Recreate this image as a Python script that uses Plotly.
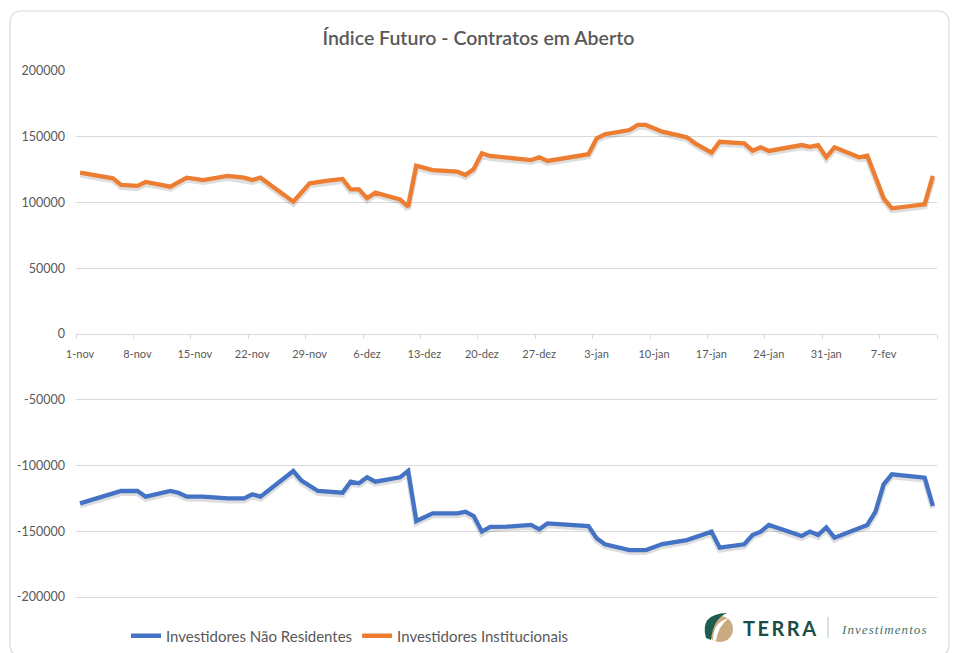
import plotly.graph_objects as go
import pandas as pd

title_text = "Índice Futuro - Contratos em Aberto"
name_nres = "Investidores Não Residentes"
name_inst = "Investidores Institucionais"

inst_dates = ["2021-11-01", "2021-11-05", "2021-11-06", "2021-11-08", "2021-11-09", "2021-11-12",
              "2021-11-14", "2021-11-16", "2021-11-19", "2021-11-21", "2021-11-22", "2021-11-23",
              "2021-11-27", "2021-11-29", "2021-12-01", "2021-12-03", "2021-12-04", "2021-12-05",
              "2021-12-06", "2021-12-07", "2021-12-10", "2021-12-11", "2021-12-12", "2021-12-14",
              "2021-12-17", "2021-12-18", "2021-12-19", "2021-12-20", "2021-12-21", "2021-12-23",
              "2021-12-26", "2021-12-27", "2021-12-28", "2022-01-02", "2022-01-03", "2022-01-04",
              "2022-01-07", "2022-01-08", "2022-01-09", "2022-01-11", "2022-01-14", "2022-01-15",
              "2022-01-17", "2022-01-18", "2022-01-21", "2022-01-22", "2022-01-23", "2022-01-24",
              "2022-01-28", "2022-01-29", "2022-01-30", "2022-01-31", "2022-02-01", "2022-02-04",
              "2022-02-05", "2022-02-07", "2022-02-08", "2022-02-12", "2022-02-13"]
inst_values = [122700, 118400, 113300, 112600, 115600, 112000,
               118900, 117100, 120200, 118900, 117100, 118900,
               100600, 114600, 116400, 117900, 110000, 110000,
               103200, 107500, 102400, 96800, 128000, 124700,
               123400, 120900, 125500, 137400, 135400, 134100,
               132300, 134400, 131600, 136700, 148800, 151900,
               155100, 159000, 159000, 153900, 149600, 145000,
               137900, 146200, 145000, 139400, 142000, 139200,
               143700, 142400, 143700, 134400, 142000, 134400,
               135600, 103200, 95600, 98600, 120200]

nres_dates = ["2021-11-01", "2021-11-06", "2021-11-08", "2021-11-09", "2021-11-12", "2021-11-13",
              "2021-11-14", "2021-11-16", "2021-11-19", "2021-11-21", "2021-11-22", "2021-11-23",
              "2021-11-27", "2021-11-28", "2021-11-30", "2021-12-03", "2021-12-04", "2021-12-05",
              "2021-12-06", "2021-12-07", "2021-12-10", "2021-12-11", "2021-12-12", "2021-12-14",
              "2021-12-17", "2021-12-18", "2021-12-19", "2021-12-20", "2021-12-21", "2021-12-23",
              "2021-12-26", "2021-12-27", "2021-12-28", "2022-01-02", "2022-01-03", "2022-01-04",
              "2022-01-07", "2022-01-09", "2022-01-11", "2022-01-14", "2022-01-17", "2022-01-18",
              "2022-01-21", "2022-01-22", "2022-01-23", "2022-01-24", "2022-01-28", "2022-01-29",
              "2022-01-30", "2022-01-31", "2022-02-01", "2022-02-04", "2022-02-05", "2022-02-06",
              "2022-02-07", "2022-02-08", "2022-02-12", "2022-02-13"]
nres_values = [-128800, -119400, -119400, -123700, -119400, -120700,
               -123700, -123700, -125000, -125000, -121900, -123700,
               -104200, -111500, -119400, -120700, -112300, -113500,
               -109000, -112300, -109000, -104200, -142200, -136400,
               -136400, -135100, -138400, -150300, -146700, -146500,
               -145200, -148500, -144000, -146000, -155400, -159900,
               -164300, -164300, -159700, -156700, -150300, -162500,
               -159900, -152900, -150300, -145200, -153600, -150300,
               -152900, -147000, -154900, -147000, -145200, -135100,
               -114300, -106700, -109300, -130800]

x_tick_dates = ["2021-11-01", "2021-11-08", "2021-11-15", "2021-11-22", "2021-11-29", "2021-12-06",
                "2021-12-13", "2021-12-20", "2021-12-27", "2022-01-03", "2022-01-10", "2022-01-17",
                "2022-01-24", "2022-01-31", "2022-02-07", "2022-02-14"]
x_tick_labels = ["1-nov", "8-nov", "15-nov", "22-nov", "29-nov", "6-dez", "13-dez", "20-dez",
                 "27-dez", "3-jan", "10-jan", "17-jan", "24-jan", "31-jan", "7-fev", ""]
y_tick_values = [200000, 150000, 100000, 50000, 0, -50000, -100000, -150000, -200000]
y_tick_labels = ["200000", "150000", "100000", "50000", "0", "-50000", "-100000", "-150000", "-200000"]

x_range = ["2021-11-01", "2022-02-14"]
y_top, y_bottom_grid = 200000, -200000

# ---- layout geometry (pixels) ----
W, H = 953, 653
L, R, T, B = 76, 16, 71, 0
GRID_BOTTOM_PX = 597                       # pixel row of the -200000 gridline
PW, PH = W - L - R, H - T - B
units_per_px = (y_top - y_bottom_grid) / (GRID_BOTTOM_PX - T)
y_range = [y_top - PH * units_per_px, y_top]   # plot area reaches the bottom edge (legend inside)
zero_pos = (0 - y_range[0]) / (y_range[1] - y_range[0])


def xp(px):
    return (px - L) / PW


def yp(py):
    return (H - B - py) / PH


half_day = pd.Timedelta(hours=12)


def centered(dates):
    return [pd.Timestamp(d) + half_day for d in dates]


BLUE = "#4472C4"
ORANGE = "#ED7D31"
GREY_TXT = "#595959"
GRID = "#d9d9d9"
FONT = "Lato, Open Sans, sans-serif"
shadow_shift = 2 * units_per_px  # 2px soft drop shadow

fig = go.Figure()
for dates, vals in ((nres_dates, nres_values), (inst_dates, inst_values)):
    fig.add_trace(go.Scatter(
        x=centered(dates), y=[v - shadow_shift for v in vals], mode="lines",
        line=dict(color="rgba(0,0,0,0.13)", width=6), showlegend=False, hoverinfo="skip"))

fig.add_trace(go.Scatter(x=centered(nres_dates), y=nres_values, mode="lines", name=name_nres,
                         line=dict(color=BLUE, width=4.3)))
fig.add_trace(go.Scatter(x=centered(inst_dates), y=inst_values, mode="lines", name=name_inst,
                         line=dict(color=ORANGE, width=4.3)))

shapes = []
# rounded chart border
rx, ry = 12 / PW, 12 / PH
x0, x1 = xp(10), xp(949)
y0, y1 = yp(656), yp(11)
shapes.append(dict(
    type="path", xref="paper", yref="paper",
    path=(f"M {x0+rx},{y1} L {x1-rx},{y1} Q {x1},{y1} {x1},{y1-ry} L {x1},{y0+ry} "
          f"Q {x1},{y0} {x1-rx},{y0} L {x0+rx},{y0} Q {x0},{y0} {x0},{y0+ry} "
          f"L {x0},{y1-ry} Q {x0},{y1} {x0+rx},{y1} Z"),
    line=dict(color="#d9d9d9", width=1.2), fillcolor="rgba(0,0,0,0)", layer="below"))

# logo icon
shapes.append(dict(type="circle", xref="paper", yref="paper",
                   x0=xp(707), x1=xp(733), y0=yp(642), y1=yp(616),
                   fillcolor="#c9ab7f", line=dict(width=0)))
shapes.append(dict(
    type="path", xref="paper", yref="paper",
    path=(f"M {xp(706)},{yp(638)} Q {xp(699)},{yp(614)} {xp(727)},{yp(613)} "
          f"Q {xp(713)},{yp(619)} {xp(711)},{yp(640)} Z"),
    fillcolor="#1f5c50", line=dict(width=0)))
shapes.append(dict(
    type="path", xref="paper", yref="paper",
    path=(f"M {xp(713)},{yp(640)} Q {xp(713)},{yp(622)} {xp(729)},{yp(618)} "
          f"Q {xp(718)},{yp(626)} {xp(716)},{yp(641)} Z"),
    fillcolor="#ffffff", line=dict(width=0)))
# logo divider
shapes.append(dict(type="line", xref="paper", yref="paper",
                   x0=xp(828), x1=xp(828), y0=yp(638), y1=yp(617),
                   line=dict(color="#b7c4c2", width=1)))

annotations = [
    dict(text="T\u2009E\u2009R\u2009R\u2009A", xref="paper", yref="paper", x=xp(779), y=yp(628),
         xanchor="center", yanchor="middle", showarrow=False,
         font=dict(family="Lato, sans-serif", size=20, color="#1d4d47", weight="bold")),
    dict(text="I\u200an\u200av\u200ae\u200as\u200at\u200ai\u200am\u200ae\u200an\u200at\u200ao\u200as",
         xref="paper", yref="paper", x=xp(884), y=yp(629),
         xanchor="center", yanchor="middle", showarrow=False,
         font=dict(family="Liberation Serif, DejaVu Serif, serif", size=13, color="#46706b",
                   style="italic")),
]

fig.update_layout(
    width=W, height=H,
    margin=dict(l=L, r=R, t=T, b=B, pad=0, autoexpand=False),
    paper_bgcolor="white", plot_bgcolor="white",
    title=dict(text=title_text, x=0.502, xref="container", xanchor="center",
               y=1 - 38 / H, yref="container", yanchor="middle",
               font=dict(family=FONT, size=19.5, color=GREY_TXT, weight=600)),
    font=dict(family=FONT, color=GREY_TXT),
    showlegend=True,
    legend=dict(orientation="h", x=xp(126), y=yp(636), xanchor="left", yanchor="middle",
                font=dict(family=FONT, size=15, color=GREY_TXT), bgcolor="rgba(0,0,0,0)",
                tracegroupgap=0, itemwidth=30),
    xaxis=dict(type="date", range=x_range, anchor="free", position=zero_pos, automargin=False,
               tickmode="array", tickvals=x_tick_dates, ticktext=x_tick_labels,
               showgrid=False, zeroline=False, showline=True, linecolor=GRID, linewidth=1,
               ticks="outside", ticklen=4, tickcolor=GRID, tickwidth=1,
               tickfont=dict(family=FONT, size=11, color=GREY_TXT),
               ticklabelshift=4, ticklabelstandoff=6),
    yaxis=dict(range=y_range, automargin=False, tickmode="array", tickvals=y_tick_values,
               ticktext=y_tick_labels,
               showgrid=True, gridcolor=GRID, gridwidth=1, zeroline=False, showline=False,
               ticks="", tickfont=dict(family=FONT, size=12.5, color=GREY_TXT),
               ticklabelstandoff=10),
    shapes=shapes, annotations=annotations,
    hovermode=False,
)

fig.write_html("out.html", config={"displayModeBar": False},
               post_script="document.body.style.margin='0';document.body.style.overflow='hidden';")
